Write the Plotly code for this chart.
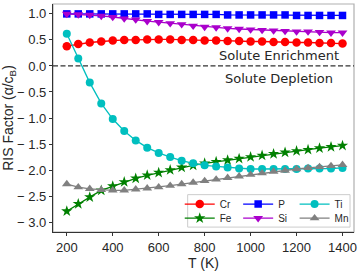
import plotly.graph_objects as go

# ---------------- data ----------------
T = [200, 250, 300, 350, 400, 450, 500, 550, 600, 650, 700, 750, 800,
     850, 900, 950, 1000, 1050, 1100, 1150, 1200, 1250, 1300, 1350, 1400]

Cr = [0.38, 0.42, 0.45, 0.47, 0.49, 0.50, 0.50, 0.51, 0.51, 0.51, 0.50, 0.50, 0.49,
      0.49, 0.48, 0.48, 0.47, 0.47, 0.46, 0.46, 0.45, 0.45, 0.44, 0.44, 0.43]
Fe = [-2.79, -2.65, -2.52, -2.39, -2.31, -2.23, -2.16, -2.10, -2.05, -2.00, -1.95, -1.91, -1.87,
      -1.84, -1.81, -1.78, -1.75, -1.72, -1.69, -1.66, -1.635, -1.61, -1.58, -1.555, -1.53]
P = [1.00, 1.00, 1.00, 1.00, 1.00, 1.00, 1.00, 1.00, 0.99, 0.99, 0.99, 0.99, 0.99,
     0.99, 0.98, 0.98, 0.98, 0.98, 0.98, 0.98, 0.97, 0.97, 0.97, 0.97, 0.97]
Si = [1.00, 0.99, 0.98, 0.96, 0.94, 0.91, 0.89, 0.86, 0.84, 0.82, 0.80, 0.77, 0.75,
      0.74, 0.72, 0.71, 0.70, 0.69, 0.68, 0.67, 0.66, 0.66, 0.65, 0.64, 0.64]
Ti = [0.62, 0.145, -0.32, -0.72, -1.02, -1.25, -1.43, -1.57, -1.67, -1.75, -1.82, -1.87, -1.91,
      -1.93, -1.95, -1.97, -1.98, -1.98, -1.98, -1.98, -1.98, -1.97, -1.97, -1.97, -1.96]
Mn = [-2.27, -2.33, -2.36, -2.38, -2.39, -2.39, -2.37, -2.35, -2.33, -2.30, -2.27, -2.24, -2.21,
      -2.18, -2.15, -2.12, -2.09, -2.06, -2.03, -2.01, -1.98, -1.96, -1.94, -1.92, -1.90]

x_tickvals = [200, 400, 600, 800, 1000, 1200, 1400]
x_ticktext = ["200", "400", "600", "800", "1000", "1200", "1400"]
y_tickvals = [1.0, 0.5, 0.0, -0.5, -1.0, -1.5, -2.0, -2.5, -3.0]
y_ticktext = ["1.0", "0.5", "0.0", "\u2212 0.5", "\u2212 1.0", "\u2212 1.5",
              "\u2212 2.0", "\u2212 2.5", "\u2212 3.0"]

# ---------------- layout geometry ----------------
W, H = 361, 272
ML, MR, MT, MB = 52, 5, 4, 36
PW, PH = W - ML - MR, H - MT - MB


def px_x(p):
    return (p - ML) / PW


def px_y(p):
    return (H - MB - p) / PH


series = [
    ("Cr", Cr, "#ff0000", "circle", 8.5, "legend"),
    ("Fe", Fe, "#008000", "star", 8.5, "legend2"),
    ("P", P, "#0000ff", "square", 7.5, "legend3"),
    ("Si", Si, "#aa00cc", "triangle-down", 8.5, "legend4"),
    ("Ti", Ti, "#00bfbf", "circle", 8, "legend5"),
    ("Mn", Mn, "#808080", "triangle-up", 8.5, "legend6"),
]

fig = go.Figure()
for name, vals, col, sym, sz, leg in series:
    fig.add_trace(go.Scatter(
        x=T, y=vals, name=name, mode="lines+markers",
        line=dict(color=col, width=1.3),
        marker=dict(symbol=sym, size=sz, color=col, line=dict(width=0)),
        legend=leg,
    ))

# legend positions (marker centre px, row centre px)
leg_pos = {
    "legend": (180, 207.3),
    "legend2": (180, 221.7),
    "legend3": (239, 207.3),
    "legend4": (239, 221.7),
    "legend5": (296, 207.3),
    "legend6": (296, 221.7),
}
leg_font = dict(family="Liberation Sans, Arial, sans-serif", size=10, color="#262626")
layout_legends = {}
for k, (lx, ly) in leg_pos.items():
    layout_legends[k] = dict(
        x=px_x(lx), y=px_y(ly - 14.5), xanchor="left", yanchor="top",
        bgcolor="rgba(0,0,0,0)", borderwidth=0, font=leg_font,
        itemwidth=30, tracegroupgap=0,
    )

tick_font = dict(family="Liberation Sans, Arial, sans-serif", size=13, color="#262626")
title_font = dict(family="Liberation Sans, Arial, sans-serif", size=14, color="#262626")

fig.update_layout(
    width=W, height=H,
    margin=dict(l=ML, r=MR, t=MT, b=MB),
    paper_bgcolor="white", plot_bgcolor="white",
    showlegend=True,
    **layout_legends,
    xaxis=dict(
        range=[140, 1450], tickvals=x_tickvals, ticktext=x_ticktext,
        ticks="outside", ticklen=3, tickwidth=1, tickcolor="#333333",
        showline=True, linecolor="#333333", linewidth=1.2,
        showgrid=False, zeroline=False, tickfont=tick_font,
        title=dict(text="T (K)", font=title_font, standoff=3),
    ),
    yaxis=dict(
        range=[-3.19, 1.19], tickvals=y_tickvals, ticktext=y_ticktext,
        ticks="outside", ticklen=3, tickwidth=1, tickcolor="#333333",
        showline=True, linecolor="#333333", linewidth=1.2,
        showgrid=False, zeroline=False, tickfont=tick_font,
        title=dict(text="RIS Factor (\u03b1/c<sub>B</sub>)", font=title_font, standoff=3),
    ),
    shapes=[
        # light frame (top / right spines)
        dict(type="rect", xref="paper", yref="paper", x0=0, x1=1, y0=0, y1=1,
             line=dict(color="#b0b0b0", width=1.2), layer="below"),
        # zero dashed line
        dict(type="line", xref="paper", yref="y", x0=0, x1=1, y0=0, y1=0,
             line=dict(color="#333333", width=1.3, dash="5px,2.5px"), layer="above"),
        # legend frame
        dict(type="rect", xref="paper", yref="paper",
             x0=px_x(188), x1=px_x(352), y0=px_y(231), y1=px_y(198),
             line=dict(color="#cccccc", width=1), fillcolor="rgba(255,255,255,0.8)",
             layer="above"),
    ],
    annotations=[
        dict(x=1125, y=0.21, xref="x", yref="y", text="Solute Enrichment",
             showarrow=False, xanchor="center", yanchor="middle",
             font=dict(family="DejaVu Sans", size=13, color="#262626")),
        dict(x=1125, y=-0.245, xref="x", yref="y", text="Solute Depletion",
             showarrow=False, xanchor="center", yanchor="middle",
             font=dict(family="DejaVu Sans", size=13, color="#262626")),
    ],
)

fig.write_html("out.html")
